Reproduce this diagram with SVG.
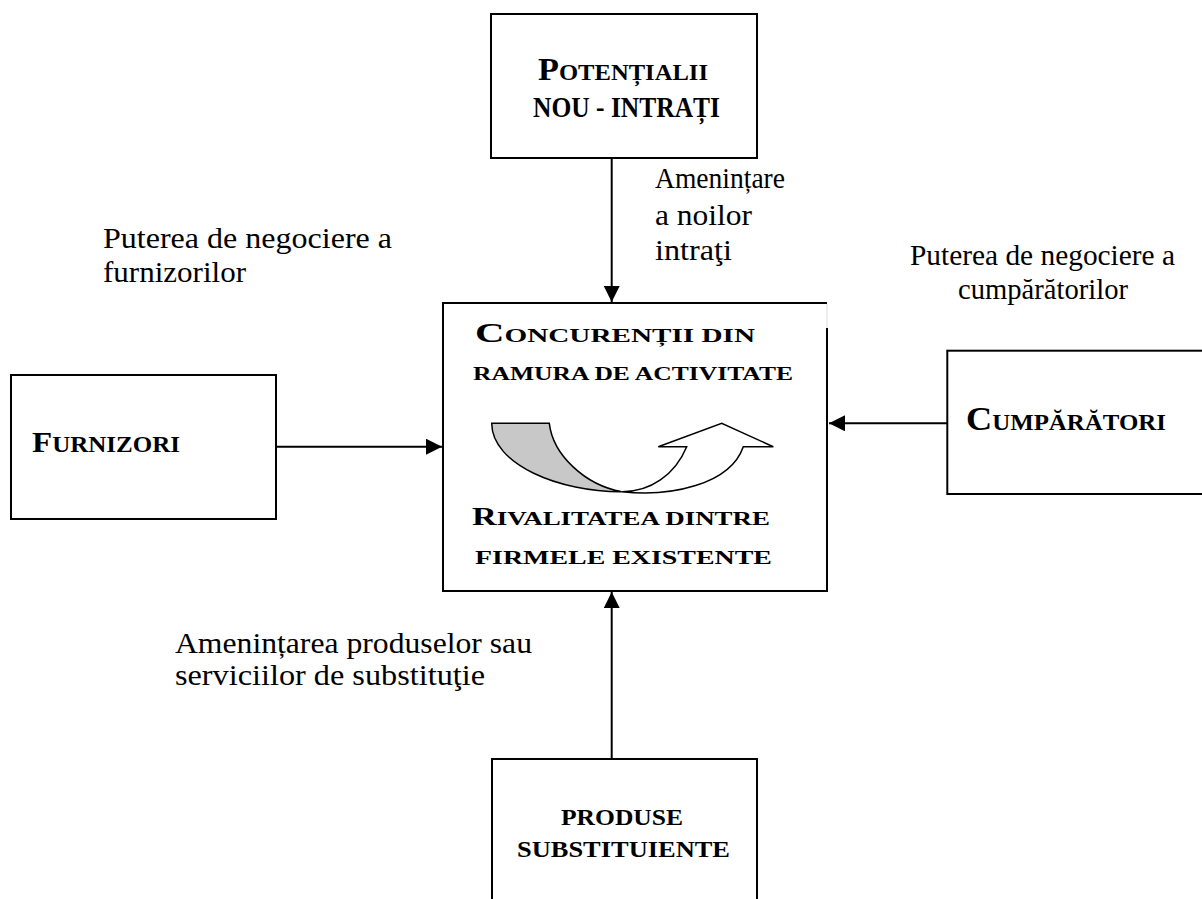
<svg xmlns="http://www.w3.org/2000/svg" width="1202" height="899" viewBox="0 0 1202 899">
<style>
.box{fill:#fff;stroke:#000;stroke-width:2}
.hdr{font-family:"Liberation Serif","Times New Roman",serif;font-weight:bold;fill:#000}
.lbl{font-family:"Liberation Serif","Times New Roman",serif;font-size:29px;fill:#000}
.conn{stroke:#000;stroke-width:2;fill:none}
</style>
<defs>
<marker id="ah" markerUnits="userSpaceOnUse" markerWidth="16" markerHeight="16" refX="16" refY="8" orient="auto">
<path d="M0,0 L16,8 L0,16 Z" fill="#000"/>
</marker>
</defs>
<rect width="1202" height="899" fill="#fff"/>

<g id="connectors">
<line class="conn" x1="611.7" y1="158" x2="611.7" y2="302" marker-end="url(#ah)"/>
<line class="conn" x1="611.7" y1="759" x2="611.7" y2="592" marker-end="url(#ah)"/>
<line class="conn" x1="276" y1="446.7" x2="442" y2="446.7" marker-end="url(#ah)"/>
<line class="conn" x1="947.3" y1="423.3" x2="829" y2="423.3" marker-end="url(#ah)"/>
</g>

<g id="node-potentialii">
<rect class="box" x="491" y="14" width="266" height="144"/>
<text class="hdr" x="538" y="80" textLength="170" lengthAdjust="spacingAndGlyphs"><tspan font-size="32">P</tspan><tspan font-size="23">OTENȚIALII</tspan></text>
<text class="hdr" x="533" y="117" font-size="29" textLength="187" lengthAdjust="spacingAndGlyphs">NOU - INTRAȚI</text>
</g>

<g id="node-concurentii">
<rect x="443" y="303" width="384" height="288" fill="#fff"/>
<path class="conn" d="M827,328 L827,591 L443,591 L443,303 L827,303"/>
<line x1="827" y1="304" x2="827" y2="328" stroke="#ddd" stroke-width="1"/>
<text class="hdr" x="475" y="342" textLength="280" lengthAdjust="spacingAndGlyphs"><tspan font-size="27.5">C</tspan><tspan font-size="19.7">ONCURENȚII DIN</tspan></text>
<text class="hdr" x="473" y="380" font-size="19.7" textLength="320" lengthAdjust="spacingAndGlyphs">RAMURA DE ACTIVITATE</text>
<path d="M491.7,423.3 L549.3,423.3 C553,455 585,485 621.7,491.7 C560,492 492,465 491.7,423.3 Z" fill="#c8c8c8" stroke="#000" stroke-width="1.5"/>
<path d="M621.7,491.7 C650,492 675,475 686.7,446.7 L658.3,446.7 L721.7,423.3 L773.3,446.7 L743.3,446.7 C730,485 670,497 621.7,491.7 Z" fill="#fff" stroke="#000" stroke-width="1.5"/>
<text class="hdr" x="472" y="525" textLength="298" lengthAdjust="spacingAndGlyphs"><tspan font-size="25">R</tspan><tspan font-size="19.7">IVALITATEA DINTRE</tspan></text>
<text class="hdr" x="475" y="564" font-size="19" textLength="297" lengthAdjust="spacingAndGlyphs">FIRMELE EXISTENTE</text>
</g>

<g id="node-furnizori">
<rect class="box" x="11" y="375" width="265" height="144"/>
<text class="hdr" x="32" y="452" textLength="148" lengthAdjust="spacingAndGlyphs"><tspan font-size="30">F</tspan><tspan font-size="22.7">URNIZORI</tspan></text>
</g>

<g id="node-cumparatori">
<rect class="box" x="947.3" y="350.7" width="270" height="143.3"/>
<text class="hdr" x="966" y="430" textLength="200" lengthAdjust="spacingAndGlyphs"><tspan font-size="33">C</tspan><tspan font-size="22.7">UMPĂRĂTORI</tspan></text>
</g>

<g id="node-produse">
<rect class="box" x="492" y="759" width="265" height="160"/>
<text class="hdr" x="561" y="825" font-size="22.7" textLength="122" lengthAdjust="spacingAndGlyphs">PRODUSE</text>
<text class="hdr" x="517" y="857" font-size="22.7" textLength="213" lengthAdjust="spacingAndGlyphs">SUBSTITUIENTE</text>
</g>

<g id="labels">
<text class="lbl" x="103" y="248" textLength="289" lengthAdjust="spacingAndGlyphs">Puterea de negociere a</text>
<text class="lbl" x="103" y="282" textLength="143" lengthAdjust="spacingAndGlyphs">furnizorilor</text>
<text class="lbl" x="910" y="265" textLength="265" lengthAdjust="spacingAndGlyphs">Puterea de negociere a</text>
<text class="lbl" x="958" y="299" textLength="170" lengthAdjust="spacingAndGlyphs">cumpărătorilor</text>
<text class="lbl" x="655" y="188" textLength="130" lengthAdjust="spacingAndGlyphs">Amenințare</text>
<text class="lbl" x="655" y="225" textLength="97" lengthAdjust="spacingAndGlyphs">a noilor</text>
<text class="lbl" x="655" y="260" textLength="77" lengthAdjust="spacingAndGlyphs">intraţi</text>
<text class="lbl" x="175" y="653" textLength="357" lengthAdjust="spacingAndGlyphs">Amenințarea produselor sau</text>
<text class="lbl" x="175" y="685" textLength="310" lengthAdjust="spacingAndGlyphs">serviciilor de substituţie</text>
</g>
</svg>
